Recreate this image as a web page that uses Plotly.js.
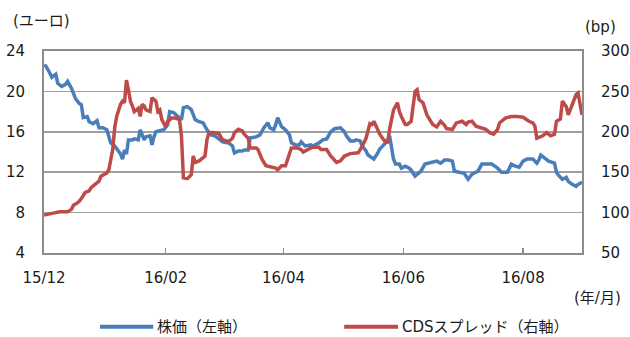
<!DOCTYPE html>
<html>
<head>
<meta charset="utf-8">
<script src="https://cdn.plot.ly/plotly-3.0.1.min.js"></script>
<style>html,body{margin:0;padding:0;background:#fff;}#chart{width:630px;height:337px;}</style>
</head>
<body>
<div id="chart"></div>
<script>
// 株価（左軸, ユーロ）
const stockDates = ['2015-12-01','2015-12-02','2015-12-04','2015-12-05','2015-12-07','2015-12-08','2015-12-10','2015-12-12','2015-12-13','2015-12-15','2015-12-17','2015-12-19','2015-12-20','2015-12-21','2015-12-23','2015-12-24','2015-12-26','2015-12-28','2015-12-29','2015-12-31',
'2016-01-02','2016-01-03','2016-01-04','2016-01-06','2016-01-08','2016-01-09','2016-01-10','2016-01-11','2016-01-12','2016-01-13','2016-01-15','2016-01-16','2016-01-18','2016-01-19','2016-01-21','2016-01-22','2016-01-24','2016-01-25','2016-01-26','2016-01-27','2016-01-29','2016-01-31',
'2016-02-02','2016-02-03','2016-02-05','2016-02-07','2016-02-09','2016-02-10','2016-02-12','2016-02-14','2016-02-16','2016-02-18','2016-02-20','2016-02-22','2016-02-24','2016-02-26','2016-02-29',
'2016-03-01','2016-03-04','2016-03-06','2016-03-07','2016-03-09','2016-03-11','2016-03-12','2016-03-14','2016-03-15','2016-03-18','2016-03-20','2016-03-22','2016-03-24','2016-03-25','2016-03-27','2016-03-28','2016-03-29','2016-03-31',
'2016-04-02','2016-04-04','2016-04-05','2016-04-07','2016-04-09','2016-04-10','2016-04-12','2016-04-15','2016-04-16','2016-04-19','2016-04-21','2016-04-23','2016-04-25','2016-04-27','2016-04-29','2016-04-30',
'2016-05-02','2016-05-03','2016-05-05','2016-05-07','2016-05-08','2016-05-10','2016-05-11','2016-05-13','2016-05-14','2016-05-16','2016-05-17','2016-05-19','2016-05-20','2016-05-22','2016-05-24','2016-05-25','2016-05-26','2016-05-27','2016-05-28','2016-05-30','2016-05-31',
'2016-06-02','2016-06-04','2016-06-05','2016-06-07','2016-06-09','2016-06-10','2016-06-12','2016-06-14','2016-06-16','2016-06-18','2016-06-20','2016-06-22','2016-06-24','2016-06-26','2016-06-27','2016-06-29',
'2016-07-02','2016-07-04','2016-07-06','2016-07-09','2016-07-11','2016-07-14','2016-07-16','2016-07-19','2016-07-21','2016-07-24','2016-07-26','2016-07-28','2016-07-30',
'2016-08-01','2016-08-03','2016-08-06','2016-08-08','2016-08-09','2016-08-10','2016-08-12','2016-08-14','2016-08-17','2016-08-18','2016-08-19','2016-08-21','2016-08-23','2016-08-24','2016-08-26','2016-08-28','2016-08-29','2016-08-31'];
const stockPrice = [22.6,22.5,21.8,21.4,21.7,20.8,20.5,20.7,21.0,20.3,19.3,18.8,18.7,17.4,17.5,17.0,16.8,17.1,16.4,16.4,
16.2,15.6,14.9,14.6,14.1,13.8,13.3,14.2,13.8,15.2,15.2,15.3,15.2,16.2,15.2,15.5,15.6,14.7,15.5,16.0,16.1,16.2,
16.7,18.0,17.9,17.6,17.2,18.4,18.5,18.2,17.2,17.0,16.9,16.2,15.7,15.6,15.2,
15.0,14.9,14.6,13.9,14.1,14.1,14.2,14.2,15.4,15.5,15.7,16.4,16.9,16.4,16.2,16.7,17.4,16.5,
16.2,15.7,14.9,14.7,14.7,15.0,14.6,14.7,14.6,14.9,15.2,15.3,16.0,16.3,16.4,16.4,
16.0,15.6,15.1,15.1,15.2,15.1,14.6,14.1,13.7,13.4,13.3,13.9,14.3,14.7,15.2,15.6,14.3,13.3,12.8,12.8,12.4,
12.6,12.4,12.2,11.6,11.9,12.1,12.8,12.9,13.0,13.1,12.9,13.2,13.2,13.1,12.1,12.0,
11.9,11.3,11.8,12.1,12.8,12.8,12.8,12.4,12.0,12.0,12.8,12.6,12.5,
13.1,13.3,13.3,12.9,13.2,13.7,13.4,13.1,12.9,12.0,11.7,11.3,11.5,11.1,10.8,10.6,10.8,11.0];

// CDSスプレッド（右軸, bp）
const cdsDates = ['2015-12-01','2015-12-04','2015-12-07','2015-12-09','2015-12-13','2015-12-15','2015-12-16','2015-12-18','2015-12-19','2015-12-21','2015-12-22','2015-12-24','2015-12-25','2015-12-27','2015-12-28','2015-12-29','2015-12-30',
'2016-01-01','2016-01-02','2016-01-03','2016-01-04','2016-01-05','2016-01-06','2016-01-07','2016-01-09','2016-01-10','2016-01-11','2016-01-12','2016-01-13','2016-01-14','2016-01-15','2016-01-16','2016-01-18','2016-01-19','2016-01-20','2016-01-21','2016-01-22','2016-01-24','2016-01-25','2016-01-27','2016-01-28','2016-01-29','2016-01-30',
'2016-02-01','2016-02-02','2016-02-04','2016-02-06','2016-02-08','2016-02-09','2016-02-10','2016-02-12','2016-02-14','2016-02-15','2016-02-16','2016-02-18','2016-02-21','2016-02-22','2016-02-23','2016-02-25','2016-02-28',
'2016-03-01','2016-03-04','2016-03-06','2016-03-07','2016-03-09','2016-03-11','2016-03-12','2016-03-14','2016-03-15','2016-03-18','2016-03-19','2016-03-21','2016-03-23','2016-03-25','2016-03-28','2016-03-29','2016-03-31',
'2016-04-02','2016-04-04','2016-04-05','2016-04-08','2016-04-10','2016-04-11','2016-04-13','2016-04-15','2016-04-16','2016-04-19','2016-04-20','2016-04-23','2016-04-25','2016-04-27','2016-04-28','2016-04-30',
'2016-05-02','2016-05-05','2016-05-08','2016-05-09','2016-05-11','2016-05-13','2016-05-15','2016-05-16','2016-05-17','2016-05-19','2016-05-20','2016-05-22','2016-05-24','2016-05-25','2016-05-26','2016-05-27','2016-05-29','2016-05-30','2016-05-31',
'2016-06-02','2016-06-03','2016-06-05','2016-06-06','2016-06-07','2016-06-08','2016-06-09','2016-06-11','2016-06-12','2016-06-13','2016-06-15','2016-06-16','2016-06-18','2016-06-20','2016-06-22','2016-06-23','2016-06-26','2016-06-28',
'2016-07-01','2016-07-03','2016-07-04','2016-07-06','2016-07-08','2016-07-10','2016-07-13','2016-07-15','2016-07-17','2016-07-19','2016-07-20','2016-07-23','2016-07-26','2016-07-29',
'2016-08-01','2016-08-04','2016-08-06','2016-08-07','2016-08-08','2016-08-11','2016-08-13','2016-08-15','2016-08-17','2016-08-18','2016-08-20','2016-08-21','2016-08-23','2016-08-24','2016-08-26','2016-08-28','2016-08-29','2016-08-30','2016-08-31'];
const cdsSpread = [97,99,100,101,101,104,109,112,114,121,125,127,131,135,137,139,145,
147,149,153,166,178,205,219,234,238,236,264,252,238,232,225,229,219,234,232,227,225,242,238,225,227,215,
206,213,217,217,215,195,143,142,147,170,162,164,170,190,199,199,198,
190,188,192,199,203,201,197,192,180,180,178,166,158,157,155,153,158,
158,174,180,180,178,175,178,180,181,181,178,178,170,164,162,164,
170,173,173,174,182,192,210,209,213,203,197,190,186,203,217,227,236,225,219,
209,209,213,232,250,252,240,236,227,221,213,209,206,213,208,204,203,211,
213,209,212,213,207,205,203,199,197,203,211,217,219,219,
218,213,211,207,192,195,199,195,197,213,216,238,231,221,234,246,248,234,221];

const tickDates = ['2015-12-01','2016-02-01','2016-04-01','2016-06-01','2016-08-01'];
const tickLabels = ['15/12','16/02','16/04','16/06','16/08'];
const leftTicks = [4,8,12,16,20,24];
const rightTicks = [50,100,150,200,250,300];
const seriesNames = ['株価（左軸）','CDSスプレッド（右軸）'];
const seriesColors = ['#4a7ebb','#be4b48'];

const FONT = 'DejaVu Sans, "Noto Sans CJK JP", sans-serif';
const TXT = '#1a1a1a';
const GRID = '#a0a0a0';
const AXIS = '#8c8c8c';

const traces = [
  {x: stockDates, y: stockPrice, type: 'scatter', mode: 'lines', name: seriesNames[0],
   line: {color: seriesColors[0], width: 3.5}, yaxis: 'y'},
  {x: cdsDates, y: cdsSpread, type: 'scatter', mode: 'lines', name: seriesNames[1],
   line: {color: seriesColors[1], width: 3.5}, yaxis: 'y2'}
];

// manual legend (paper coordinates below the plot)
const legY = -0.365;
const legend = [
  {x0: 0.104, x1: 0.203, text: 0.207},
  {x0: 0.558, x1: 0.658, text: 0.662}
];
const shapes = legend.map((l, i) => ({type: 'line', xref: 'paper', yref: 'paper',
  x0: l.x0, x1: l.x1, y0: legY, y1: legY, line: {color: seriesColors[i], width: 4}}));
const legendText = legend.map((l, i) => ({text: seriesNames[i], xref: 'paper', yref: 'paper',
  x: l.text, y: legY, xanchor: 'left', yanchor: 'middle', showarrow: false,
  font: {family: FONT, size: 15, color: TXT}}));

const layout = {
  width: 630, height: 337,
  margin: {l: 44, r: 48, t: 51, b: 84, autoexpand: false},
  paper_bgcolor: '#fff', plot_bgcolor: '#fff',
  font: {family: FONT, size: 15, color: TXT},
  showlegend: false,
  xaxis: {type: 'date', range: ['2015-12-01', '2016-08-31'],
          tickmode: 'array', tickvals: tickDates, ticktext: tickLabels,
          ticks: 'inside', ticklen: 5, tickcolor: AXIS, tickwidth: 1.5,
          showline: true, linecolor: AXIS, linewidth: 2, mirror: true,
          showgrid: false, zeroline: false, ticklabelstandoff: 10,
          tickfont: {family: FONT, size: 15, color: TXT}},
  yaxis: {range: [4, 24], tickmode: 'array', tickvals: leftTicks,
          showline: true, linecolor: AXIS, linewidth: 2,
          showgrid: true, gridcolor: GRID, gridwidth: 1.5, zeroline: false,
          ticks: '', ticklabelstandoff: 14,
          tickfont: {family: FONT, size: 15, color: TXT}},
  yaxis2: {range: [50, 300], tickmode: 'array', tickvals: rightTicks,
           overlaying: 'y', side: 'right',
           showline: true, linecolor: AXIS, linewidth: 2,
           showgrid: false, zeroline: false,
           ticks: '', ticklabelstandoff: 14,
           tickfont: {family: FONT, size: 15, color: TXT}},
  shapes: shapes,
  annotations: [
    {text: '(ユーロ)', xref: 'paper', yref: 'paper', x: -0.061, y: 1.148, xanchor: 'left', yanchor: 'middle', showarrow: false,
     font: {family: FONT, size: 15, color: TXT}},
    {text: '(bp)', xref: 'paper', yref: 'paper', x: 1.002, y: 1.121, xanchor: 'left', yanchor: 'middle', showarrow: false,
     font: {family: FONT, size: 15, color: TXT}},
    {text: '(年/月)', xref: 'paper', yref: 'paper', x: 1.077, y: -0.223, xanchor: 'right', yanchor: 'middle', showarrow: false,
     font: {family: FONT, size: 15, color: TXT}}
  ].concat(legendText)
};

Plotly.newPlot('chart', traces, layout, {displayModeBar: false, staticPlot: true});
</script>
</body>
</html>
